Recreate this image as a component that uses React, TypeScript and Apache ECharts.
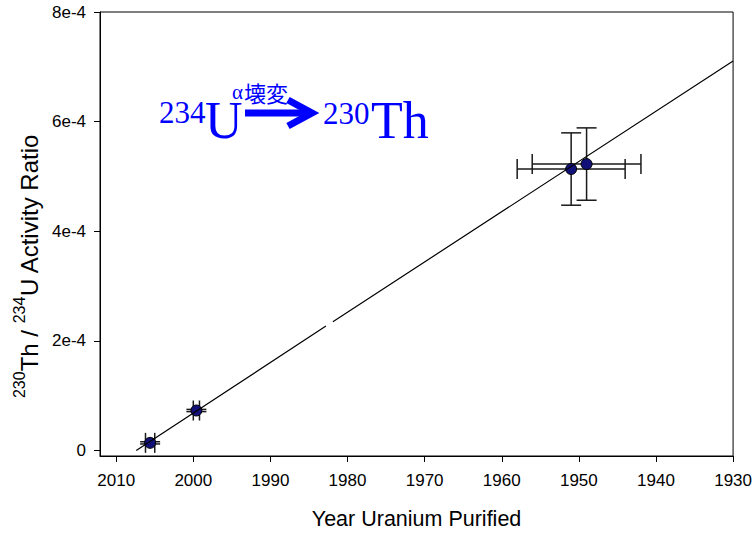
import React, { useEffect, useRef } from 'react';
import * as echarts from 'echarts';

// Measured data (year purified, 230Th/234U activity ratio) with error bars
const years = [2005.6, 1999.6, 1951.0, 1949.0];
const ratios = [1.4e-5, 7.3e-5, 5.135e-4, 5.226e-4];
const yearErrors = [0.6, 0.4, 7.0, 7.05];
const ratioErrors = [2e-6, 2e-6, 6.6e-5, 6.6e-5];

// Ingrowth line as drawn (with the small break seen in the reference)
const fitYears = [2007.4, 1982.8, 1982.35, 1981.9, 1930];
const fitRatios: (number | null)[] = [0, 2.27e-4, null, 2.35e-4, 7.107e-4];

// Tick labels
const yearTicks = [2010, 2000, 1990, 1980, 1970, 1960, 1950, 1940, 1930];
const ratioTicks = [0, 2e-4, 4e-4, 6e-4, 8e-4];

const SANS = 'Arial, "Liberation Sans", sans-serif';
const SERIF = '"Times New Roman", "Liberation Serif", serif';
const BLUE = '#0000ff';

export default function App() {
  const ref = useRef<HTMLDivElement>(null);

  useEffect(() => {
    if (!ref.current) return;
    const chart = echarts.init(ref.current, undefined, { renderer: 'svg' });

    const errData = years.map((y, i) => [y, ratios[i], yearErrors[i], ratioErrors[i]]);
    const pointData = years.map((y, i) => [y, ratios[i]]);
    const fitData = fitYears.map((y, i) => [y, fitRatios[i] === null ? '-' : fitRatios[i]]);

    const option: any = {
      animation: false,
      grid: {
        left: 100,
        top: 12,
        width: 634,
        height: 447,
        show: true,
        borderColor: '#000',
        borderWidth: 1,
        containLabel: false,
      },
      xAxis: {
        type: 'value',
        inverse: true,
        min: 1930,
        max: 2012.1,
        name: 'Year Uranium Purified',
        nameLocation: 'middle',
        nameGap: 52,
        nameTextStyle: { fontFamily: SANS, fontSize: 21.5, color: '#000' },
        axisLine: { show: true, onZero: false, lineStyle: { color: '#000', width: 1 } },
        axisTick: { show: true, inside: false, length: 6, customValues: yearTicks, lineStyle: { color: '#000' } },
        axisLabel: {
          customValues: yearTicks,
          margin: 16,
          fontFamily: SANS,
          fontSize: 17,
          color: '#000',
          formatter: (v: number) => String(Math.round(v)),
        },
        splitLine: { show: false },
      },
      yAxis: {
        type: 'value',
        min: -1e-5,
        max: 8e-4,
        axisLine: { show: true, onZero: false, lineStyle: { color: '#000', width: 1 } },
        axisTick: { show: true, inside: false, length: 6, customValues: ratioTicks, lineStyle: { color: '#000' } },
        axisLabel: {
          customValues: ratioTicks,
          margin: 14,
          fontFamily: SANS,
          fontSize: 17,
          color: '#000',
          formatter: (v: number) => {
            const n = Math.round(v * 1e4);
            return n === 0 ? '0' : n + 'e-4';
          },
        },
        splitLine: { show: false },
      },
      graphic: [
        {
          type: 'text',
          x: 26,
          y: 266,
          rotation: Math.PI / 2,
          style: {
            text: '{s|230}{n|Th / }{s|234}{n|U Activity Ratio}',
            align: 'center',
            verticalAlign: 'middle',
            fill: '#000',
            rich: {
              s: { fontFamily: SANS, fontSize: 16, lineHeight: 14, verticalAlign: 'top', fill: '#000' },
              n: { fontFamily: SANS, fontSize: 24, lineHeight: 30, verticalAlign: 'bottom', fill: '#000' },
            },
          },
        },
        // 234U
        { type: 'text', x: 159, y: 112.5, style: { text: '234', font: `31px ${SERIF}`, fill: BLUE, align: 'left', verticalAlign: 'middle' } },
        { type: 'text', x: 205, y: 120.5, style: { text: 'U', font: `52px ${SERIF}`, fill: BLUE, align: 'left', verticalAlign: 'middle' } },
        // alpha decay label
        { type: 'text', x: 232, y: 92, style: { text: 'α', font: `21px ${SERIF}`, fill: BLUE, align: 'left', verticalAlign: 'middle' } },
        { type: 'text', x: 244, y: 92, style: { text: '壊変', font: `22px "Noto Sans CJK JP", sans-serif`, fill: BLUE, align: 'left', verticalAlign: 'middle' } },
        // arrow
        { type: 'line', shape: { x1: 245, y1: 113, x2: 309, y2: 113 }, style: { stroke: BLUE, lineWidth: 7 } },
        {
          type: 'polyline',
          shape: { points: [[288, 100], [312, 113], [288, 126]] },
          style: { stroke: BLUE, lineWidth: 7, fill: null, lineJoin: 'miter', lineCap: 'butt' },
        },
        // 230Th
        { type: 'text', x: 323, y: 113, style: { text: '230', font: `31px ${SERIF}`, fill: BLUE, align: 'left', verticalAlign: 'middle' } },
        { type: 'text', x: 371, y: 120.5, style: { text: 'Th', font: `52px ${SERIF}`, fill: BLUE, align: 'left', verticalAlign: 'middle' } },
      ],
      series: [
        {
          type: 'custom',
          name: 'errors',
          encode: { x: 0, y: 1 },
          data: errData,
          z: 2,
          renderItem: (params: any, api: any) => {
            const x = api.value(0);
            const y = api.value(1);
            const xe = api.value(2);
            const ye = api.value(3);
            const l = api.coord([x - xe, y]);
            const r = api.coord([x + xe, y]);
            const t = api.coord([x, y + ye]);
            const b = api.coord([x, y - ye]);
            const cap = 10;
            const style = { stroke: '#1a1a1a', lineWidth: 1.5 };
            const ln = (x1: number, y1: number, x2: number, y2: number) => ({
              type: 'line',
              shape: { x1, y1, x2, y2 },
              style,
            });
            return {
              type: 'group',
              children: [
                ln(l[0], l[1], r[0], r[1]),
                ln(l[0], l[1] - cap, l[0], l[1] + cap),
                ln(r[0], r[1] - cap, r[0], r[1] + cap),
                ln(t[0], t[1], b[0], b[1]),
                ln(t[0] - cap, t[1], t[0] + cap, t[1]),
                ln(b[0] - cap, b[1], b[0] + cap, b[1]),
              ],
            };
          },
        },
        {
          type: 'scatter',
          name: 'points',
          data: pointData,
          symbol: 'circle',
          symbolSize: 11,
          z: 3,
          itemStyle: { color: '#101078', borderColor: '#000', borderWidth: 1, opacity: 1 },
        },
        {
          type: 'line',
          name: 'fit',
          data: fitData,
          connectNulls: false,
          showSymbol: false,
          symbol: 'none',
          z: 4,
          lineStyle: { color: '#000', width: 1.2 },
        },
      ],
    };

    chart.setOption(option);
    return () => chart.dispose();
  }, []);

  return (
    <div
      ref={ref}
      style={{ position: 'fixed', left: 0, top: 0, width: 755, height: 535, background: '#fff' }}
    />
  );
}
